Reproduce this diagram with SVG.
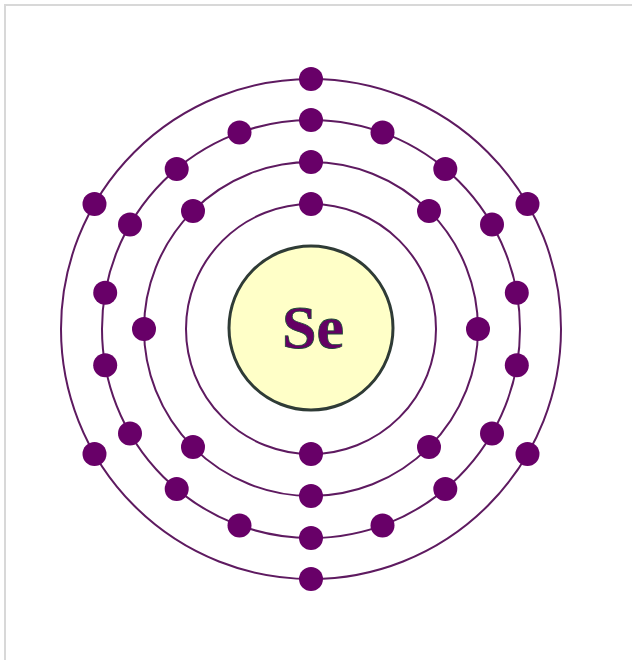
<svg xmlns="http://www.w3.org/2000/svg" width="632" height="660" viewBox="0 0 632 660">
<style>
.shell{fill:none;stroke:#5e1a60;stroke-width:2}
.e{fill:#680068}
.lbl{font-family:"Liberation Serif","Times New Roman",serif;font-weight:bold;font-size:62px;fill:#640064;stroke:#1c4a36;stroke-width:0.8}
</style>
<defs><circle id="el" r="12" class="e"/></defs>
<rect x="5" y="5" width="640" height="670" fill="#fff" stroke="#d8d8d8" stroke-width="2"/>
<g id="shells">
<circle class="shell" cx="311" cy="329" r="125"/>
<circle class="shell" cx="311" cy="329" r="167"/>
<circle class="shell" cx="311" cy="329" r="209"/>
<circle class="shell" cx="311" cy="329" r="250"/>
</g>
<g id="nucleus">
<circle cx="311" cy="328" r="82" fill="#ffffc8" stroke="#2f3b36" stroke-width="3"/>
<text class="lbl" x="313" y="348" text-anchor="middle">Se</text>
</g>
<g id="shell1">
<use href="#el" x="311" y="204"/><use href="#el" x="311" y="454"/>
</g>
<g id="shell2" transform="translate(311 329)">
<use href="#el" x="0" y="-167"/><use href="#el" x="0" y="167"/>
<use href="#el" x="-167" y="0"/><use href="#el" x="167" y="0"/>
<use href="#el" x="-118" y="-118"/><use href="#el" x="118" y="-118"/>
<use href="#el" x="-118" y="118"/><use href="#el" x="118" y="118"/>
</g>
<g id="shell3" transform="translate(311 329)">
<use href="#el" x="0" y="-209"/><use href="#el" x="0" y="209"/>
<use href="#el" x="-71.5" y="-196.4"/><use href="#el" x="71.5" y="-196.4"/>
<use href="#el" x="-134.3" y="-160.1"/><use href="#el" x="134.3" y="-160.1"/>
<use href="#el" x="-181" y="-104.5"/><use href="#el" x="181" y="-104.5"/>
<use href="#el" x="-205.8" y="-36.3"/><use href="#el" x="205.8" y="-36.3"/>
<use href="#el" x="-205.8" y="36.3"/><use href="#el" x="205.8" y="36.3"/>
<use href="#el" x="-181" y="104.5"/><use href="#el" x="181" y="104.5"/>
<use href="#el" x="-134.3" y="160.1"/><use href="#el" x="134.3" y="160.1"/>
<use href="#el" x="-71.5" y="196.4"/><use href="#el" x="71.5" y="196.4"/>
</g>
<g id="shell4" transform="translate(311 329)">
<use href="#el" x="0" y="-250"/><use href="#el" x="0" y="250"/>
<use href="#el" x="-216.5" y="-125"/><use href="#el" x="216.5" y="-125"/>
<use href="#el" x="-216.5" y="125"/><use href="#el" x="216.5" y="125"/>
</g>
</svg>
